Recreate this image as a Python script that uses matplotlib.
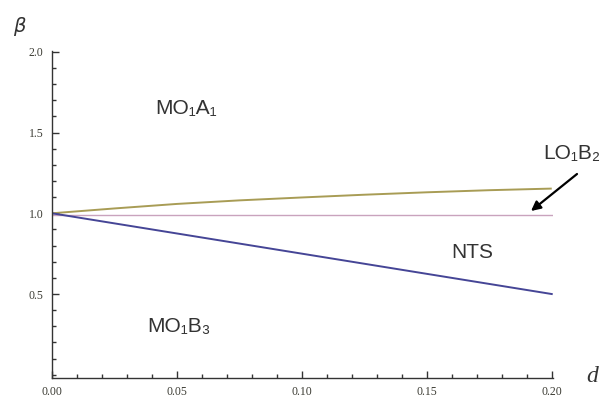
import numpy as np
import matplotlib
matplotlib.use("Agg")
import matplotlib.pyplot as plt
from matplotlib.ticker import MultipleLocator, FormatStrFormatter

# Boundary curves in the (d, beta) plane
d_vals = [0.0, 0.025, 0.05, 0.075, 0.10, 0.125, 0.15, 0.175, 0.20]
beta_upper = [1.0, 1.03, 1.058, 1.08, 1.098, 1.115, 1.13, 1.143, 1.153]
d_flat = [0.0, 0.20]
beta_flat = [0.99, 0.99]
d_lower = [0.0, 0.20]
beta_lower = [1.0, 0.5]

x_ticks = [0.00, 0.05, 0.10, 0.15, 0.20]
y_ticks = [0.5, 1.0, 1.5, 2.0]

W, H = 608, 397
fig = plt.figure(figsize=(W / 100, H / 100), dpi=100)
ax = fig.add_axes([52 / W, 1 - 378 / H, (553 - 52) / W, (378 - 51) / H])

ax.plot(d_vals, beta_upper, color="#a89c55", lw=1.4, solid_capstyle="butt")
ax.plot(d_flat, beta_flat, color="#c9a3bd", lw=1.0)
ax.plot(d_lower, beta_lower, color="#454596", lw=1.4)

ax.set_xlim(0, 0.2005)
ax.set_ylim(-0.02, 2.005)

for s in ["top", "right"]:
    ax.spines[s].set_visible(False)
for s in ["left", "bottom"]:
    ax.spines[s].set_color("#333333")
    ax.spines[s].set_linewidth(1.0)

ax.set_xticks(x_ticks)
ax.set_yticks(y_ticks)
ax.xaxis.set_major_formatter(FormatStrFormatter("%.2f"))
ax.yaxis.set_major_formatter(FormatStrFormatter("%.1f"))
ax.xaxis.set_minor_locator(MultipleLocator(0.01))
ax.yaxis.set_minor_locator(MultipleLocator(0.1))
ax.tick_params(which="major", direction="in", length=5, width=1.0, color="#333333",
               labelsize=8.5, labelcolor="#3c3c34")
ax.tick_params(axis="x", which="major", pad=6)
ax.tick_params(axis="y", which="major", pad=6)
ax.tick_params(which="minor", direction="in", length=3, width=1.0, color="#333333")
for lab in ax.get_xticklabels() + ax.get_yticklabels():
    lab.set_family(["Liberation Serif", "DejaVu Serif"])

# Axis names
fig.text(20 / W, 1 - 27 / H, r"$\beta$", fontsize=14, ha="center", va="center",
         color="#333333", family="DejaVu Serif")
fig.text(592 / W, 1 - 376 / H, "d", fontsize=17, ha="center", va="center",
         style="italic", color="#333333", family=["Liberation Serif", "DejaVu Serif"])

# Region labels
lab_kw = dict(fontsize=15, color="#333333", family=["Liberation Sans", "DejaVu Sans"],
              va="center", ha="center")
fig.text(186 / W, 1 - 108 / H, "MO\u2081A\u2081", **lab_kw)
fig.text(179 / W, 1 - 327 / H, "MO\u2081B\u2083", **lab_kw)
fig.text(572 / W, 1 - 153 / H, "LO\u2081B\u2082", **lab_kw)
fig.text(472 / W, 1 - 253 / H, "NTS", **lab_kw)

# Arrow pointing to the thin LO1B2 region
ax.annotate("", xy=(531 / W, 1 - 211 / H), xycoords="figure fraction",
            xytext=(577 / W, 1 - 174 / H), textcoords="figure fraction",
            arrowprops=dict(arrowstyle="-|>", color="black", lw=1.6,
                            mutation_scale=14, shrinkA=0, shrinkB=0))

fig.savefig("out.png", dpi=100)
